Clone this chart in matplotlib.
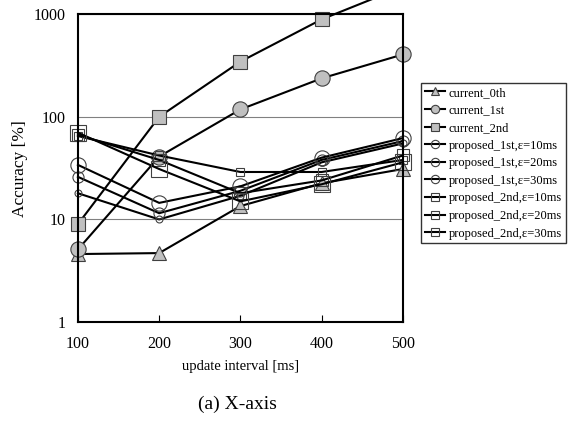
import numpy as np
import matplotlib.pyplot as plt

# Werte
intervals = [100, 200, 300, 400, 500]
current_0th = [4.6, 4.7, 13.5, 22.5, 31]
current_1st = [5.1, 41, 118, 237, 405]
current_2nd = [9, 100, 345, 890, 1850]
proposed_1st_10 = [18, 10, 17, 36, 55]
proposed_1st_20 = [26, 11.5, 19, 38, 58]
proposed_1st_30 = [34, 14.5, 21, 40, 62]
proposed_2nd_10 = [65, 42, 29, 29, 38]
proposed_2nd_20 = [67, 38, 18, 24, 42]
proposed_2nd_30 = [70, 31, 15, 22, 36]

plt.rcParams['font.family'] = ['Liberation Serif', 'DejaVu Serif']

fig = plt.figure(figsize=(5.73, 4.3), dpi=100)
ax = fig.add_axes([0.136, 0.251, 0.567, 0.716])

gray = '#c0c0c0'
series = [
    ("current_0th", current_0th, '^', 10, gray),
    ("current_1st", current_1st, 'o', 11, gray),
    ("current_2nd", current_2nd, 's', 10, gray),
    ("proposed_1st,ε=10ms", proposed_1st_10, 'o', 5, 'none'),
    ("proposed_1st,ε=20ms", proposed_1st_20, 'o', 8, 'none'),
    ("proposed_1st,ε=30ms", proposed_1st_30, 'o', 11, 'none'),
    ("proposed_2nd,ε=10ms", proposed_2nd_10, 's', 6, 'none'),
    ("proposed_2nd,ε=20ms", proposed_2nd_20, 's', 8, 'none'),
    ("proposed_2nd,ε=30ms", proposed_2nd_30, 's', 11, 'none'),
]
handles = []
for label, vals, m, ms, fc in series:
    h, = ax.plot(intervals, vals, color='black', lw=1.5, marker=m, ms=ms,
                 mfc=fc, mec='#404040', mew=0.8, label=label, clip_on=False)
    handles.append(h)

ax.set_yscale('log')
ax.set_ylim(1, 1000)
ax.set_xlim(100, 500)
ax.set_xticks(intervals)
ax.set_yticks([1, 10, 100, 1000])
ax.set_yticklabels(['1', '10', '100', '1000'])
ax.yaxis.set_minor_locator(plt.NullLocator())
ax.tick_params(axis='x', direction='in', length=5, labelsize=11.5, pad=10)
ax.tick_params(axis='y', length=0, labelsize=11.5, pad=9)
ax.grid(axis='y', which='major', color='#808080', lw=0.8)
for s in ax.spines.values():
    s.set_linewidth(1.5)

ax.set_xlabel("update interval [ms]", fontsize=10.5, labelpad=6)
ax.set_ylabel("Accuracy [%]", fontsize=12.5, labelpad=4)

leg = fig.legend(handles=handles, loc='upper left', bbox_to_anchor=(0.735, 0.807),
                 fontsize=9, frameon=True, fancybox=False, edgecolor='black',
                 handlelength=1.6, handletextpad=0.3, borderpad=0.3,
                 labelspacing=0.45, borderaxespad=0)
leg.get_frame().set_linewidth(1.0)
for h in leg.legend_handles:
    h.set_markersize(6)
    h.set_linewidth(1.5)

fig.text(0.415, 0.048, "(a) X-axis", fontsize=14, ha='center')

fig.savefig("out.png", dpi=100)
